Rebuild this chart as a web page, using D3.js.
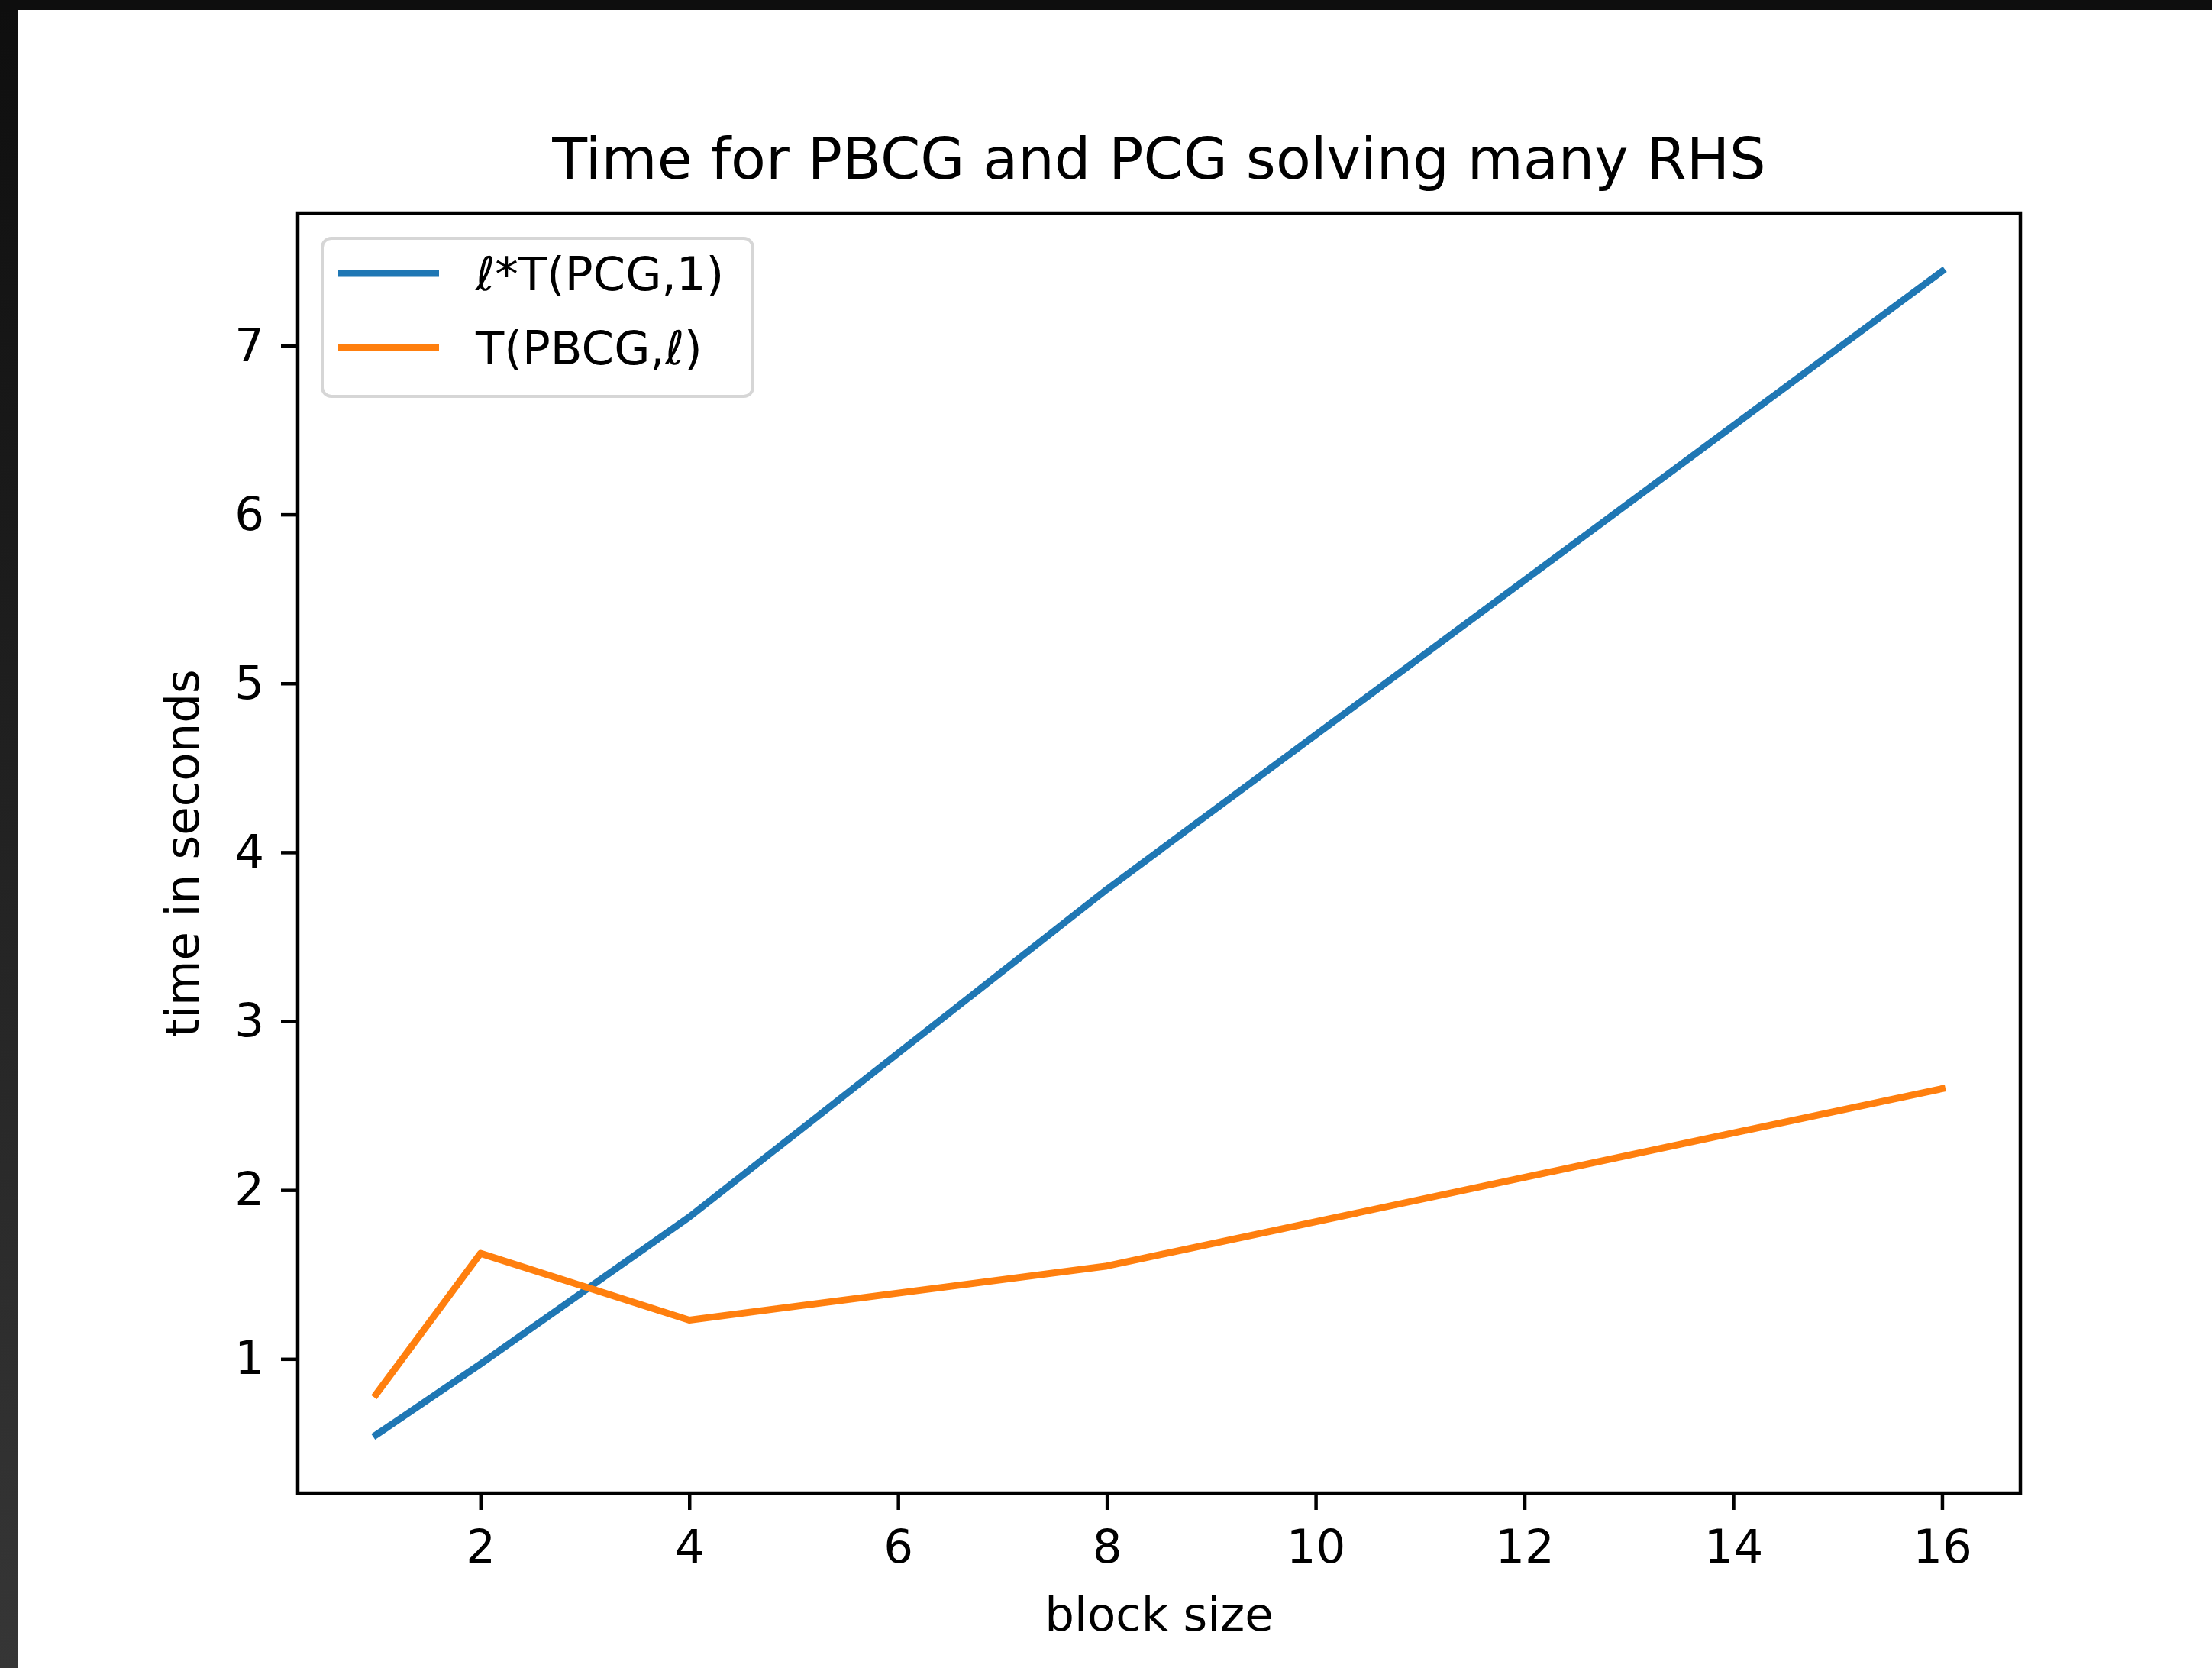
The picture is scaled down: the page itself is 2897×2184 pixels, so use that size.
<!DOCTYPE html>
<head>
<meta charset="utf-8">
<title>Time for PBCG and PCG</title>
<style>
body { margin: 0; background: #fff; }
svg { display: block; font-family: "DejaVu Sans", sans-serif; }
</style>
<script src="https://cdn.jsdelivr.net/npm/d3@7/dist/d3.min.js"></script>
</head>
<body>
<svg id="chart" width="2897" height="2184"></svg>
<script>
// values
var blockSizes = [1, 2, 4, 8, 16];
var pcgTimesL  = [0.55, 0.97, 1.84, 3.78, 7.44];   // l*T(PCG,1)
var pbcgTimes  = [0.79, 1.625, 1.23, 1.55, 2.60];  // T(PBCG,l)
var xTicks = [2, 4, 6, 8, 10, 12, 14, 16];
var yTicks = [1, 2, 3, 4, 5, 6, 7];
var seriesNames = ["*T(PCG,1)", "T(PBCG,"];
var seriesColors = ["#1f77b4", "#ff7f0e"];

(function() {
var W = 2897, H = 2184;
var pLeft = 390, pRight = 2646, pTop = 279, pBottom = 1955;
var fs = 61;

var svg = d3.select("#chart");

// dark screenshot edges
var grad = svg.append("defs").append("linearGradient")
  .attr("id", "edge").attr("x1", 0).attr("y1", 0).attr("x2", 0).attr("y2", 1);
grad.append("stop").attr("offset", "0").attr("stop-color", "#0e0e0e");
grad.append("stop").attr("offset", "1").attr("stop-color", "#363636");
svg.append("rect").attr("x", 0).attr("y", 0).attr("width", 24).attr("height", H).attr("fill", "url(#edge)");
svg.append("rect").attr("x", 0).attr("y", 0).attr("width", W).attr("height", 13).attr("fill", "#0e0e0e");

var all = pcgTimesL.concat(pbcgTimes);
var lo = d3.min(all), hi = d3.max(all), pad = (hi - lo) * 0.05;

var x = d3.scaleLinear().domain([0.25, 16.75]).range([pLeft, pRight]);
var y = d3.scaleLinear().domain([lo - pad, hi + pad]).range([pBottom, pTop]);

// axes
var xAxis = svg.append("g").attr("transform", "translate(0," + pBottom + ")")
  .call(d3.axisBottom(x).tickValues(xTicks).tickSize(22).tickPadding(26).tickFormat(d3.format("d")));
var yAxis = svg.append("g").attr("transform", "translate(" + pLeft + ",0)")
  .call(d3.axisLeft(y).tickValues(yTicks).tickSize(22).tickPadding(22).tickFormat(d3.format("d")));
[xAxis, yAxis].forEach(function(a) {
  a.select(".domain").remove();
  a.selectAll(".tick line").attr("stroke", "#000").attr("stroke-width", 4.5);
  a.selectAll(".tick text").attr("fill", "#000").style("font-size", fs + "px").style("font-family", "DejaVu Sans");
});

// lines
var line = d3.line().x(function(d, i) { return x(blockSizes[i]); }).y(function(d) { return y(d); });
[pcgTimesL, pbcgTimes].forEach(function(s, k) {
  svg.append("path").datum(s)
    .attr("d", line)
    .attr("fill", "none")
    .attr("stroke", seriesColors[k])
    .attr("stroke-width", 9)
    .attr("stroke-linejoin", "round")
    .attr("stroke-linecap", "square");
});

// frame
svg.append("rect").attr("x", pLeft).attr("y", pTop)
  .attr("width", pRight - pLeft).attr("height", pBottom - pTop)
  .attr("fill", "none").attr("stroke", "#000").attr("stroke-width", 4.5);

// title and labels
svg.append("text").attr("x", (pLeft + pRight) / 2).attr("y", 234)
  .attr("text-anchor", "middle").style("font-size", "75px")
  .text("Time for PBCG and PCG solving many RHS");
svg.append("text").attr("x", (pLeft + pRight) / 2).attr("y", 2135)
  .attr("text-anchor", "middle").style("font-size", fs + "px")
  .text("block size");
svg.append("text").attr("transform", "translate(260," + (pTop + pBottom) / 2 + ") rotate(-90)")
  .attr("text-anchor", "middle").style("font-size", fs + "px")
  .text("time in seconds");

// legend
var lg = svg.append("g");
lg.append("rect").attr("x", 422).attr("y", 312).attr("width", 564).attr("height", 207)
  .attr("rx", 12).attr("fill", "#fff").attr("fill-opacity", 0.8)
  .attr("stroke", "#d6d6d6").attr("stroke-width", 4);
seriesNames.forEach(function(name, k) {
  var ly = 358 + k * 97;
  lg.append("line").attr("x1", 443).attr("x2", 575).attr("y1", ly).attr("y2", ly)
    .attr("stroke", seriesColors[k]).attr("stroke-width", 9);
  var t = lg.append("text").attr("x", 623).attr("y", ly + 22).style("font-size", fs + "px");
  if (k == 0) {
    t.append("tspan").style("font-style", "italic").text("\u2113");
    t.append("tspan").text(name);
  } else {
    t.append("tspan").text(name);
    t.append("tspan").style("font-style", "italic").text("\u2113");
    t.append("tspan").text(")");
  }
});
})();
</script>
</body>
